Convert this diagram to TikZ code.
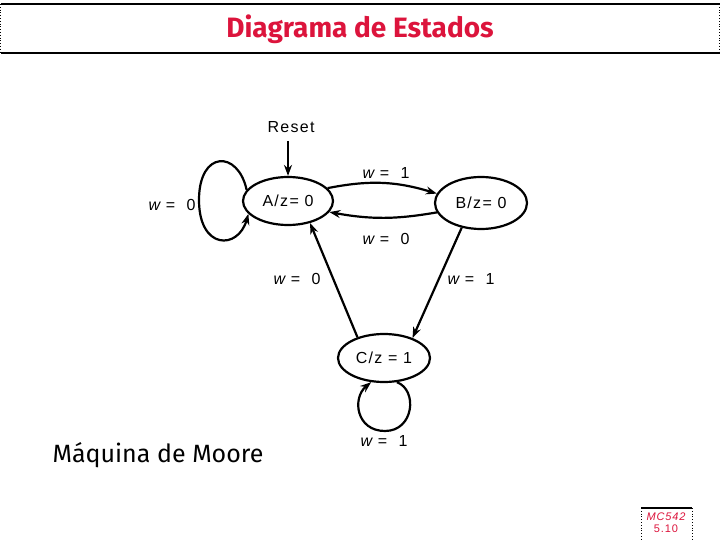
\documentclass[tikz,border=0pt]{standalone}
\usepackage{fontspec}
\setmainfont[LetterSpace=8]{Liberation Sans}
\newfontfamily\titlefont{Fira Sans}
\usetikzlibrary{shapes.geometric,arrows.meta}
\definecolor{titlered}{RGB}{220,20,60}
\tikzset{
  state/.style={ellipse,draw,line width=2.2pt,inner sep=0pt,minimum width=90pt,minimum height=48pt,font=\fontsize{16}{18}\selectfont},
  arr/.style={line width=2.2pt,-{Stealth[length=11pt,width=8pt]}},
  lbl/.style={font=\fontsize{16}{18}\selectfont,inner sep=0pt}
}
\newcommand{\wlab}[1]{{\itshape w} =\ \ #1}
\begin{document}
\begin{tikzpicture}[x=1pt,y=-1pt]
\useasboundingbox (0,0) rectangle (720,540);
% title box
\draw[line width=1.5pt] (0.5,4) -- (719.5,4);
\draw[line width=1.5pt] (0.5,53) -- (719.5,53);
\draw[line width=0.8pt,dotted] (0.5,4) -- (0.5,53);
\draw[line width=0.8pt,dotted] (719.5,4) -- (719.5,53);
\node[text=titlered,font=\titlefont\bfseries\fontsize{28}{32}\selectfont] (title) at (360,29) {Diagrama de Estados};
% states
\node[state] (A) at (288,201) {A/z= 0};
\node[state,minimum width=92pt,minimum height=52pt] (B) at (481,203) {B/z= 0};
\node[state,minimum width=92pt] (C) at (384,358) {C/z = 1};
% reset
\node[lbl] (reset) at (291,127) {Reset};
\draw[arr] (288,141) -- (A.north);
% self loop A
\draw[arr] (A.165) .. controls (238,150) and (199,150) .. (199,200) .. controls (199,250) and (238,250) .. (A.198);
\node[lbl] (la) at (172,205) {\wlab{0}};
% A -> B, B -> A
\draw[arr] (A.18) to[bend left=14] (B.168);
\node[lbl] (lab) at (386,173) {\wlab{1}};
\draw[arr] (B.192) to[bend left=10] (A.-15);
\node[lbl] (lba) at (386,239) {\wlab{0}};
% C -> A, B -> C
\draw[arr] (C.142) -- (A.-45);
\node[lbl] (lca) at (297,279) {\wlab{0}};
\draw[arr] (B.-128) -- (C.35);
\node[lbl] (lbc) at (471,279) {\wlab{1}};
% self loop C
\draw[arr] (C.-62) .. controls (418,390) and (414,431) .. (385,431) .. controls (356,431) and (352,398) .. (C.-118);
\node[lbl] (lc) at (384,441) {\wlab{1}};
% Moore
\node[font=\titlefont\fontsize{25}{28}\selectfont] (moore) at (158,455) {Máquina de Moore};
% footer box
\draw[line width=1.2pt] (641,508) -- (692,508);
\draw[line width=0.8pt,dotted] (641,508) -- (641,540);
\draw[line width=0.8pt,dotted] (692,508) -- (692,540);
\node[text=titlered,font=\fontsize{11}{12}\selectfont,align=center,inner sep=0pt] (foot) at (666,523) {{\itshape MC542}\\5.10};
\end{tikzpicture}
\end{document}
